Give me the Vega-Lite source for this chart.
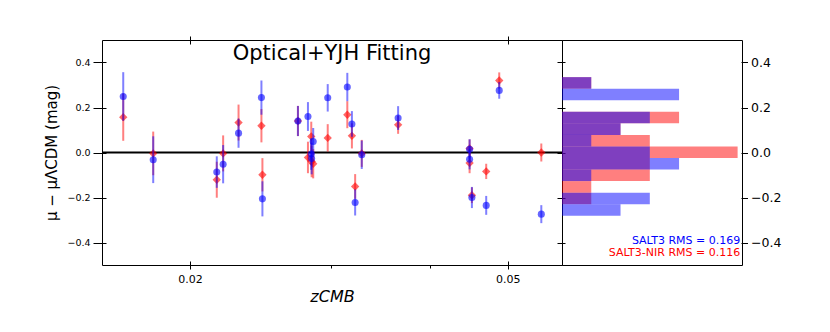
{
  "$schema": "https://vega.github.io/schema/vega-lite/v6.json",
  "padding": {"left": 44, "top": 35, "right": 5, "bottom": 5},
  "config": {
    "font": "DejaVu Sans",
    "view": {"stroke": "black", "strokeWidth": 1},
    "axis": {"grid": false, "domain": false, "tickColor": "black", "labelColor": "black", "titleColor": "black", "titleFontWeight": "normal"}
  },
  "datasets": {
    "sne": [
      {"sn": 1, "z": 0.01649, "model": "SALT3-NIR", "resid": 0.157, "err": 0.105},
      {"sn": 2, "z": 0.01798, "model": "SALT3-NIR", "resid": -0.004, "err": 0.097},
      {"sn": 3, "z": 0.0216, "model": "SALT3-NIR", "resid": -0.121, "err": 0.08},
      {"sn": 4, "z": 0.0220, "model": "SALT3-NIR", "resid": -0.004, "err": 0.08},
      {"sn": 5, "z": 0.0230, "model": "SALT3-NIR", "resid": 0.133, "err": 0.08},
      {"sn": 6, "z": 0.02457, "model": "SALT3-NIR", "resid": 0.119, "err": 0.074},
      {"sn": 7, "z": 0.02464, "model": "SALT3-NIR", "resid": -0.099, "err": 0.074},
      {"sn": 8, "z": 0.0273, "model": "SALT3-NIR", "resid": 0.140, "err": 0.067},
      {"sn": 9, "z": 0.0281, "model": "SALT3-NIR", "resid": -0.022, "err": 0.07},
      {"sn": 10, "z": 0.02837, "model": "SALT3-NIR", "resid": 0.071, "err": 0.066},
      {"sn": 11, "z": 0.02853, "model": "SALT3-NIR", "resid": -0.05, "err": 0.065},
      {"sn": 12, "z": 0.0284, "model": "SALT3-NIR", "resid": -0.04, "err": 0.07},
      {"sn": 13, "z": 0.02975, "model": "SALT3-NIR", "resid": 0.065, "err": 0.061},
      {"sn": 14, "z": 0.03148, "model": "SALT3-NIR", "resid": 0.168, "err": 0.06},
      {"sn": 15, "z": 0.0319, "model": "SALT3-NIR", "resid": 0.074, "err": 0.056},
      {"sn": 16, "z": 0.0322, "model": "SALT3-NIR", "resid": -0.151, "err": 0.055},
      {"sn": 17, "z": 0.03282, "model": "SALT3-NIR", "resid": -0.004, "err": 0.06},
      {"sn": 18, "z": 0.03645, "model": "SALT3-NIR", "resid": 0.123, "err": 0.04},
      {"sn": 19, "z": 0.0448, "model": "SALT3-NIR", "resid": 0.018, "err": 0.04},
      {"sn": 20, "z": 0.0448, "model": "SALT3-NIR", "resid": -0.047, "err": 0.045},
      {"sn": 21, "z": 0.0451, "model": "SALT3-NIR", "resid": -0.19, "err": 0.035},
      {"sn": 22, "z": 0.0470, "model": "SALT3-NIR", "resid": -0.084, "err": 0.034},
      {"sn": 23, "z": 0.0488, "model": "SALT3-NIR", "resid": 0.32, "err": 0.036},
      {"sn": 24, "z": 0.0551, "model": "SALT3-NIR", "resid": 0.0, "err": 0.04},
      {"sn": 1, "z": 0.01649, "model": "SALT3", "resid": 0.249, "err": 0.108},
      {"sn": 2, "z": 0.01798, "model": "SALT3", "resid": -0.032, "err": 0.104},
      {"sn": 3, "z": 0.0216, "model": "SALT3", "resid": -0.087, "err": 0.07},
      {"sn": 4, "z": 0.0220, "model": "SALT3", "resid": -0.052, "err": 0.085},
      {"sn": 5, "z": 0.0230, "model": "SALT3", "resid": 0.086, "err": 0.065},
      {"sn": 6, "z": 0.02457, "model": "SALT3", "resid": 0.244, "err": 0.076},
      {"sn": 7, "z": 0.02464, "model": "SALT3", "resid": -0.206, "err": 0.078},
      {"sn": 8, "z": 0.0273, "model": "SALT3", "resid": 0.140, "err": 0.067},
      {"sn": 9, "z": 0.0281, "model": "SALT3", "resid": 0.160, "err": 0.064},
      {"sn": 10, "z": 0.02837, "model": "SALT3", "resid": -0.007, "err": 0.07},
      {"sn": 11, "z": 0.02853, "model": "SALT3", "resid": 0.049, "err": 0.06},
      {"sn": 12, "z": 0.0284, "model": "SALT3", "resid": -0.027, "err": 0.07},
      {"sn": 13, "z": 0.02975, "model": "SALT3", "resid": 0.243, "err": 0.061},
      {"sn": 14, "z": 0.03148, "model": "SALT3", "resid": 0.291, "err": 0.063},
      {"sn": 15, "z": 0.0319, "model": "SALT3", "resid": 0.127, "err": 0.057},
      {"sn": 16, "z": 0.0322, "model": "SALT3", "resid": -0.222, "err": 0.058},
      {"sn": 17, "z": 0.03282, "model": "SALT3", "resid": -0.010, "err": 0.063},
      {"sn": 18, "z": 0.03645, "model": "SALT3", "resid": 0.153, "err": 0.053},
      {"sn": 19, "z": 0.0448, "model": "SALT3", "resid": 0.014, "err": 0.045},
      {"sn": 20, "z": 0.0448, "model": "SALT3", "resid": -0.030, "err": 0.045},
      {"sn": 21, "z": 0.0451, "model": "SALT3", "resid": -0.200, "err": 0.047},
      {"sn": 22, "z": 0.0470, "model": "SALT3", "resid": -0.235, "err": 0.042},
      {"sn": 23, "z": 0.0488, "model": "SALT3", "resid": 0.276, "err": 0.037},
      {"sn": 24, "z": 0.0551, "model": "SALT3", "resid": -0.274, "err": 0.04}
    ]
  },
  "spacing": 0,
  "bounds": "flush",
  "hconcat": [
    {
      "width": 460,
      "height": 225,
      "resolve": {"axis": {"x": "independent", "y": "independent"}},
      "layer": [
        {
          "data": {"values": [{}]},
          "mark": {"type": "rule", "color": "black", "strokeWidth": 2},
          "encoding": {"y": {"datum": 0, "type": "quantitative", "scale": {"domain": [-0.5, 0.5], "nice": false}, "axis": null}}
        },
        {
          "data": {"name": "sne"},
          "transform": [{"filter": "datum.model == 'SALT3-NIR'"}],
          "mark": {"type": "errorbar", "color": "#ff0000", "opacity": 0.5, "thickness": 2, "ticks": false},
          "encoding": {
            "x": {"field": "z", "type": "quantitative", "scale": {"type": "log", "domain": [0.01551, 0.05849], "nice": false},
                  "axis": {"orient": "bottom", "values": [0.02, 0.05], "format": ".2f", "labelFontSize": 11, "tickSize": 8, "offset": -4, "labelPadding": 4,
                           "title": "zCMB", "titleFontSize": 16, "titleFontStyle": "italic", "titlePadding": 4}},
            "y": {"field": "resid", "type": "quantitative", "scale": {"domain": [-0.5, 0.5], "nice": false},
                  "axis": {"orient": "left", "values": [-0.4, -0.2, 0, 0.2, 0.4], "format": ".1f", "labelFontSize": 9.5, "tickSize": 13, "offset": -4, "labelPadding": 3,
                           "title": "μ − μΛCDM (mag)", "titleFontSize": 15, "titlePadding": 7}},
            "yError": {"field": "err"}
          }
        },
        {
          "data": {"name": "sne"},
          "transform": [{"filter": "datum.model == 'SALT3-NIR'"}],
          "mark": {"type": "point", "shape": "diamond", "filled": true, "size": 70, "color": "#ff0000", "opacity": 0.6},
          "encoding": {
            "x": {"field": "z", "type": "quantitative", "scale": {"type": "log", "domain": [0.01551, 0.05849], "nice": false},
                  "axis": {"orient": "bottom", "values": [0.03, 0.04], "labels": false, "tickSize": 3, "title": null}},
            "y": {"field": "resid", "type": "quantitative", "scale": {"domain": [-0.5, 0.5], "nice": false},
                  "axis": {"orient": "right", "values": [-0.4, -0.2, 0, 0.2, 0.4], "labels": false, "tickSize": 8, "offset": -5, "title": null}}
          }
        },
        {
          "data": {"name": "sne"},
          "transform": [{"filter": "datum.model == 'SALT3'"}],
          "mark": {"type": "errorbar", "color": "#0000ff", "opacity": 0.5, "thickness": 2, "ticks": false},
          "encoding": {
            "x": {"field": "z", "type": "quantitative", "scale": {"type": "log", "domain": [0.01551, 0.05849], "nice": false},
                  "axis": {"orient": "top", "values": [0.02, 0.05], "labels": false, "tickSize": 8, "offset": -4, "title": null}},
            "y": {"field": "resid", "type": "quantitative", "scale": {"domain": [-0.5, 0.5], "nice": false}, "axis": null},
            "yError": {"field": "err"}
          }
        },
        {
          "data": {"name": "sne"},
          "transform": [{"filter": "datum.model == 'SALT3'"}],
          "mark": {"type": "point", "shape": "circle", "filled": true, "size": 50, "color": "#0000ff", "opacity": 0.6},
          "encoding": {
            "x": {"field": "z", "type": "quantitative", "scale": {"type": "log", "domain": [0.01551, 0.05849], "nice": false}, "axis": null},
            "y": {"field": "resid", "type": "quantitative", "scale": {"domain": [-0.5, 0.5], "nice": false}, "axis": null}
          }
        },
        {
          "data": {"values": [{}]},
          "mark": {"type": "text", "text": "Optical+YJH Fitting", "fontSize": 21, "color": "black", "align": "center", "baseline": "alphabetic"},
          "encoding": {
            "x": {"datum": 0.03012, "type": "quantitative", "scale": {"type": "log", "domain": [0.01551, 0.05849], "nice": false}, "axis": null},
            "y": {"datum": 0.412, "type": "quantitative", "scale": {"domain": [-0.5, 0.5], "nice": false}, "axis": null}
          }
        }
      ]
    },
    {
      "width": 180,
      "height": 225,
      "layer": [
        {
          "data": {"name": "sne"},
          "transform": [
            {"filter": "datum.model == 'SALT3-NIR'"},
            {"bin": {"extent": [-0.281, 0.335], "step": 0.05133, "nice": false}, "field": "resid", "as": ["bin_start", "bin_end"]},
            {"aggregate": [{"op": "count", "as": "count"}], "groupby": ["bin_start", "bin_end"]}
          ],
          "mark": {"type": "rect", "color": "#ff0000", "opacity": 0.5},
          "encoding": {
            "y": {"field": "bin_start", "type": "quantitative", "scale": {"domain": [-0.5, 0.5], "nice": false},
                  "axis": {"orient": "right", "values": [-0.4, -0.2, 0, 0.2, 0.4], "format": ".1f", "labelFontSize": 12.5, "tickSize": 6.5, "offset": -1, "labelPadding": 3, "title": null}},
            "y2": {"field": "bin_end"},
            "x": {"field": "count", "type": "quantitative", "scale": {"domain": [0, 6.15], "nice": false}, "axis": null},
            "x2": {"datum": 0}
          }
        },
        {
          "data": {"name": "sne"},
          "transform": [
            {"filter": "datum.model == 'SALT3'"},
            {"bin": {"extent": [-0.281, 0.335], "step": 0.05133, "nice": false}, "field": "resid", "as": ["bin_start", "bin_end"]},
            {"aggregate": [{"op": "count", "as": "count"}], "groupby": ["bin_start", "bin_end"]}
          ],
          "mark": {"type": "rect", "color": "#0000ff", "opacity": 0.5},
          "encoding": {
            "y": {"field": "bin_start", "type": "quantitative", "scale": {"domain": [-0.5, 0.5], "nice": false}},
            "y2": {"field": "bin_end"},
            "x": {"field": "count", "type": "quantitative", "scale": {"domain": [0, 6.15], "nice": false}},
            "x2": {"datum": 0}
          }
        },
        {
          "data": {"values": [{}]},
          "mark": {"type": "text", "text": "SALT3 RMS = 0.169", "color": "#0000ff", "fontSize": 11, "align": "right", "baseline": "alphabetic"},
          "encoding": {
            "x": {"datum": 6.09, "type": "quantitative", "scale": {"domain": [0, 6.15], "nice": false}},
            "y": {"datum": -0.406, "type": "quantitative", "scale": {"domain": [-0.5, 0.5], "nice": false}}
          }
        },
        {
          "data": {"values": [{}]},
          "mark": {"type": "text", "text": "SALT3-NIR RMS = 0.116", "color": "#ff0000", "fontSize": 11, "align": "right", "baseline": "alphabetic"},
          "encoding": {
            "x": {"datum": 6.09, "type": "quantitative", "scale": {"domain": [0, 6.15], "nice": false}},
            "y": {"datum": -0.461, "type": "quantitative", "scale": {"domain": [-0.5, 0.5], "nice": false}}
          }
        }
      ]
    }
  ]
}
